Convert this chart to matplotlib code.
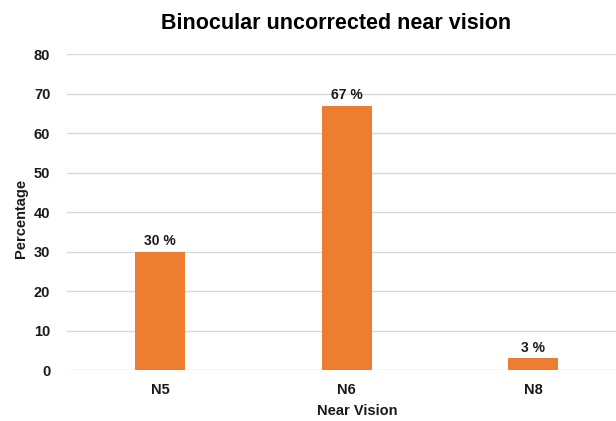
import matplotlib
matplotlib.use('Agg')
import matplotlib.pyplot as plt
import numpy as np

plt.rcParams['font.family'] = ['Liberation Sans', 'DejaVu Sans']

categories = ['N5', 'N6', 'N8']
percentages = [30, 67, 3]
bar_labels = ['30 %', '67 %', '3 %']

fig = plt.figure(figsize=(6.16, 4.21), dpi=100)
ax = fig.add_axes([0.1088, 0.1204, 0.8912, 0.7506])

index = np.arange(len(categories))
ax.bar(index, percentages, 0.268, color='#ED7D31', zorder=3)
for i, v in enumerate(percentages):
    ax.text(index[i], v + 1.0, bar_labels[i], ha='center', va='bottom',
            fontsize=10, fontweight='bold', color='#1a1a1a')

ax.set_xlim(-0.5, 2.445)
ax.set_ylim(0, 80)
ax.set_yticks(np.arange(0, 81, 10))
ax.set_xticks(index)
ax.set_xticklabels(categories)
ax.tick_params(axis='both', length=0, labelsize=10.5, colors='#1a1a1a')
for lbl in ax.get_xticklabels() + ax.get_yticklabels():
    lbl.set_fontweight('bold')
ax.tick_params(axis='x', pad=9)
ax.tick_params(axis='y', pad=12)
ax.grid(axis='y', color='#d9d9d9', linewidth=1, zorder=0)
for s in ax.spines.values():
    s.set_visible(False)

fig.text(0.5455, 0.945, 'Binocular uncorrected near vision', ha='center', va='center',
         fontsize=15.5, fontweight='bold', color='#000000')
fig.text(0.58, 0.024, 'Near Vision', ha='center', va='center',
         fontsize=10.5, fontweight='bold', color='#1a1a1a')
fig.text(0.034, 0.48, 'Percentage', ha='center', va='center', rotation=90,
         fontsize=10.5, fontweight='bold', color='#1a1a1a')

fig.savefig('out.png', dpi=100)
